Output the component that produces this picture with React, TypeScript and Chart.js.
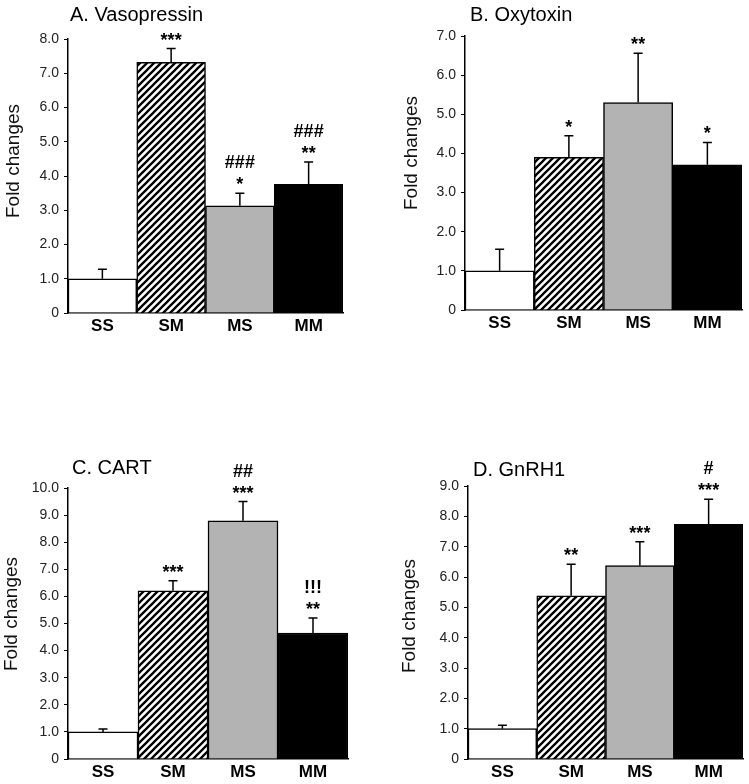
import React, { useEffect, useRef } from 'react';
import { Chart, registerables } from 'chart.js';
Chart.register(...registerables);

// ---------- data ----------
const categories = ['SS', 'SM', 'MS', 'MM'];

const vasopressinMean = [1.0, 7.32, 3.13, 3.76];
const vasopressinSem = [0.28, 0.4, 0.37, 0.65];
const vasopressinMarks = [[], ['***'], ['*', '###'], ['**', '###']];

const oxytoxinMean = [1.0, 3.9, 5.3, 3.71];
const oxytoxinSem = [0.55, 0.55, 1.26, 0.57];
const oxytoxinMarks = [[], ['*'], ['**'], ['*']];

const cartMean = [1.0, 6.21, 8.79, 4.65];
const cartSem = [0.11, 0.37, 0.71, 0.55];
const cartMarks = [[], ['***'], ['***', '##'], ['**', '!!!']];

const gnrh1Mean = [1.0, 5.38, 6.38, 7.74];
const gnrh1Sem = [0.11, 1.04, 0.78, 0.82];
const gnrh1Marks = [[], ['**'], ['***'], ['***', '#']];

const titles = ['A. Vasopressin', 'B. Oxytoxin', 'C. CART', 'D. GnRH1'];
const yMaxima = [8, 7, 10, 9];
const yAxisTitle = 'Fold changes';

// ---------- layout ----------
const FONT = '"Liberation Sans", Arial, Helvetica, sans-serif';
const XH = 24;

type PanelCfg = {
  title: string;
  mean: number[];
  sem: number[];
  marks: string[][];
  max: number;
  left: number; top: number; w: number; h: number;
  area: { left: number; right: number; top: number; bottom: number };
  titlePos: { x: number; y: number };
  ylabPos: { x: number; y: number };
};

const panels: PanelCfg[] = [
  {
    title: titles[0], mean: vasopressinMean, sem: vasopressinSem, marks: vasopressinMarks, max: yMaxima[0],
    left: 0, top: 0, w: 375, h: 392,
    area: { left: 68, right: 343, top: 39, bottom: 313 },
    titlePos: { x: 70, y: 21 }, ylabPos: { x: 14, y: 161 },
  },
  {
    title: titles[1], mean: oxytoxinMean, sem: oxytoxinSem, marks: oxytoxinMarks, max: yMaxima[1],
    left: 375, top: 0, w: 374, h: 392,
    area: { left: 90, right: 367, top: 36, bottom: 310 },
    titlePos: { x: 95, y: 21 }, ylabPos: { x: 37, y: 153 },
  },
  {
    title: titles[2], mean: cartMean, sem: cartSem, marks: cartMarks, max: yMaxima[2],
    left: 0, top: 392, w: 375, h: 392,
    area: { left: 68, right: 348, top: 96, bottom: 367 },
    titlePos: { x: 72, y: 82 }, ylabPos: { x: 12, y: 222 },
  },
  {
    title: titles[3], mean: gnrh1Mean, sem: gnrh1Sem, marks: gnrh1Marks, max: yMaxima[3],
    left: 375, top: 392, w: 374, h: 392,
    area: { left: 93, right: 368, top: 94, bottom: 367 },
    titlePos: { x: 98, y: 84 }, ylabPos: { x: 35, y: 224 },
  },
];

function makeHatch(): CanvasPattern | string {
  const s = 7;
  const c = document.createElement('canvas');
  c.width = s;
  c.height = s;
  const g = c.getContext('2d');
  if (!g) return '#888';
  g.fillStyle = '#ffffff';
  g.fillRect(0, 0, s, s);
  g.strokeStyle = '#000000';
  g.lineWidth = 2.3;
  g.beginPath();
  for (const k of [-s, 0, s]) {
    g.moveTo(k - 1, s + 1);
    g.lineTo(k + s + 1, -1);
  }
  g.stroke();
  const p = g.createPattern(c, 'repeat');
  return p || '#888';
}

function Panel({ cfg }: { cfg: PanelCfg }) {
  const ref = useRef<HTMLCanvasElement>(null);
  useEffect(() => {
    const canvas = ref.current;
    if (!canvas) return;
    const ctx = canvas.getContext('2d');
    if (!ctx) return;
    const hatch = makeHatch();

    const errorBars = {
      id: 'errorBars',
      afterDatasetsDraw(chart: any) {
        const meta = chart.getDatasetMeta(0);
        const ys = chart.scales.y;
        const c = chart.ctx;
        c.save();
        c.strokeStyle = '#000';
        c.lineWidth = 1.5;
        meta.data.forEach((bar: any, i: number) => {
          const x = bar.x;
          const y0 = ys.getPixelForValue(cfg.mean[i]);
          const y1 = ys.getPixelForValue(cfg.mean[i] + cfg.sem[i]);
          c.beginPath();
          c.moveTo(x, y0);
          c.lineTo(x, y1);
          c.moveTo(x - 4.5, y1);
          c.lineTo(x + 4.5, y1);
          c.stroke();
          // significance marks
          c.fillStyle = '#000';
          c.font = `bold 18px ${FONT}`;
          c.textAlign = 'center';
          c.textBaseline = 'alphabetic';
          cfg.marks[i].forEach((m, j) => {
            c.fillText(m, x, y1 - 3 - j * 22);
          });
        });
        c.restore();
      },
    };

    const texts = {
      id: 'panelTexts',
      afterDraw(chart: any) {
        const c = chart.ctx;
        c.save();
        c.fillStyle = '#000';
        c.font = `20px ${FONT}`;
        c.textAlign = 'left';
        c.textBaseline = 'alphabetic';
        c.fillText(cfg.title, cfg.titlePos.x, cfg.titlePos.y);
        c.translate(cfg.ylabPos.x, cfg.ylabPos.y);
        c.rotate(-Math.PI / 2);
        c.font = `19px ${FONT}`;
        c.fillStyle = '#111';
        c.textAlign = 'center';
        c.textBaseline = 'middle';
        c.fillText(yAxisTitle, 0, 0);
        c.restore();
      },
    };

    const a = cfg.area;
    const chart = new Chart(ctx, {
      type: 'bar',
      data: {
        labels: categories,
        datasets: [
          {
            data: cfg.mean,
            backgroundColor: ['#ffffff', hatch as any, '#b3b3b3', '#000000'],
            borderColor: '#000000',
            borderWidth: 1.5,
            barPercentage: 1,
            categoryPercentage: 1,
          },
        ],
      },
      options: {
        responsive: false,
        animation: false,
        devicePixelRatio: 1,
        layout: {
          padding: { top: a.top, right: cfg.w - a.right, bottom: cfg.h - a.bottom - XH, left: 0 },
        },
        plugins: {
          legend: { display: false },
          tooltip: { enabled: false },
          title: { display: false },
        },
        scales: {
          x: {
            grid: { display: false, drawTicks: false },
            border: { display: true, color: '#000', width: 1.5 },
            ticks: { font: { family: FONT, size: 17, weight: 'bold' }, color: '#000', padding: 3 },
            afterFit: (s: any) => { s.height = XH; },
          },
          y: {
            min: 0,
            max: cfg.max,
            ticks: {
              stepSize: 1,
              autoSkip: false,
              callback: (v: any) => (Number(v) === 0 ? '0' : Number(v).toFixed(1)),
              font: { family: FONT, size: 14 },
              color: '#222',
              padding: 5,
            },
            grid: { display: true, drawOnChartArea: false, drawTicks: true, tickLength: 4, color: '#000', lineWidth: 1 },
            border: { display: true, color: '#000', width: 1.5 },
            afterFit: (s: any) => { s.width = a.left; },
          },
        },
      } as any,
      plugins: [errorBars, texts],
    });
    return () => chart.destroy();
  }, [cfg]);

  return (
    <canvas
      ref={ref}
      width={cfg.w}
      height={cfg.h}
      style={{ position: 'absolute', left: cfg.left, top: cfg.top, width: cfg.w, height: cfg.h }}
    />
  );
}

export default function App() {
  return (
    <div style={{ position: 'absolute', left: 0, top: 0, width: 749, height: 784, background: '#fff' }}>
      {panels.map((p, i) => (
        <Panel key={i} cfg={p} />
      ))}
    </div>
  );
}
